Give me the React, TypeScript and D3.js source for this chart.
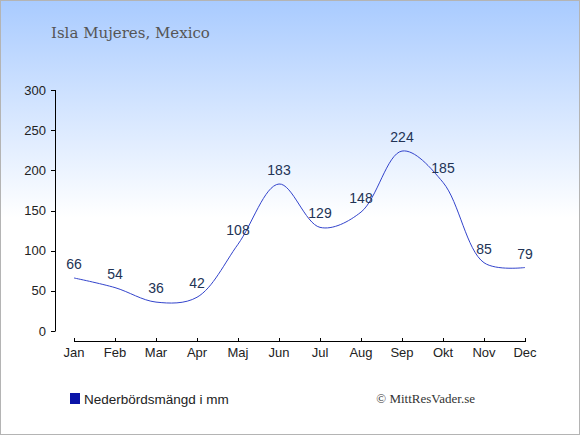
import React from "react";
import * as d3 from "d3";

const months = ["Jan", "Feb", "Mar", "Apr", "Maj", "Jun", "Jul", "Aug", "Sep", "Okt", "Nov", "Dec"];
const rainfall = [66, 54, 36, 42, 108, 183, 129, 148, 224, 185, 85, 79];
const yTicks = [0, 50, 100, 150, 200, 250, 300];
const title = "Isla Mujeres, Mexico";
const legendLabel = "Nederbördsmängd i mm";
const credit = "© MittResVader.se";

export default function App() {
  const W = 580;
  const H = 435;
  const x = d3.scalePoint<string>().domain(months).range([74, 525]);
  const y = d3.scaleLinear().domain([0, 300]).range([331, 90]);
  const line = d3
    .line<number>()
    .x((_, i) => x(months[i]) as number)
    .y((d) => y(d))
    .curve(d3.curveCatmullRom.alpha(0.5));

  return (
    <div style={{ position: "fixed", left: 0, top: 0, width: W, height: H }}>
      <svg width={W} height={H} style={{ display: "block" }}>
        <defs>
          <linearGradient id="bg" x1="0" y1="0" x2="0" y2="1">
            <stop offset="0" stopColor="#a9cbff" />
            <stop offset="0.5" stopColor="#ffffff" />
            <stop offset="1" stopColor="#ffffff" />
          </linearGradient>
        </defs>
        <rect x={0.5} y={0.5} width={W - 1} height={H - 1} fill="url(#bg)" stroke="#b4b4b4" strokeWidth={1} />
        <text x={51} y={38} fontFamily="DejaVu Serif" fontSize={15} fill="#555555">
          {title}
        </text>

        {/* y axis */}
        <line x1={55.5} x2={55.5} y1={y(300)} y2={y(0)} stroke="#000" />
        {yTicks.map((t) => (
          <g key={t}>
            <line x1={51} x2={55.5} y1={Math.round(y(t)) + 0.5} y2={Math.round(y(t)) + 0.5} stroke="#000" />
            <text
              x={46}
              y={y(t) + 4.5}
              textAnchor="end"
              fontFamily="Liberation Sans, Arial, sans-serif"
              fontSize={13}
              fill="#222"
            >
              {t}
            </text>
          </g>
        ))}

        {/* x axis */}
        <line x1={x("Jan")} x2={x("Dec")} y1={341.5} y2={341.5} stroke="#000" />
        {months.map((m) => (
          <g key={m}>
            <line x1={(x(m) as number) + 0.5} x2={(x(m) as number) + 0.5} y1={338} y2={342} stroke="#000" />
            <text
              x={x(m)}
              y={357}
              textAnchor="middle"
              fontFamily="Liberation Sans, Arial, sans-serif"
              fontSize={13}
              fill="#222"
            >
              {m}
            </text>
          </g>
        ))}

        <path d={line(rainfall) || ""} fill="none" stroke="#3344cc" strokeWidth={1} />

        {rainfall.map((v, i) => (
          <text
            key={i}
            x={x(months[i])}
            y={y(v) - 9}
            textAnchor="middle"
            fontFamily="Liberation Sans, Arial, sans-serif"
            fontSize={14}
            fill="#223355"
          >
            {v}
          </text>
        ))}

        <rect x={70} y={393} width={10} height={11} fill="#0a14a8" />
        <text x={84} y={404} fontFamily="Liberation Sans, Arial, sans-serif" fontSize={13.5} fill="#222">
          {legendLabel}
        </text>
        <text x={475} y={403} textAnchor="end" fontFamily="Liberation Serif, serif" fontSize={13} fill="#333">
          {credit}
        </text>
      </svg>
    </div>
  );
}
